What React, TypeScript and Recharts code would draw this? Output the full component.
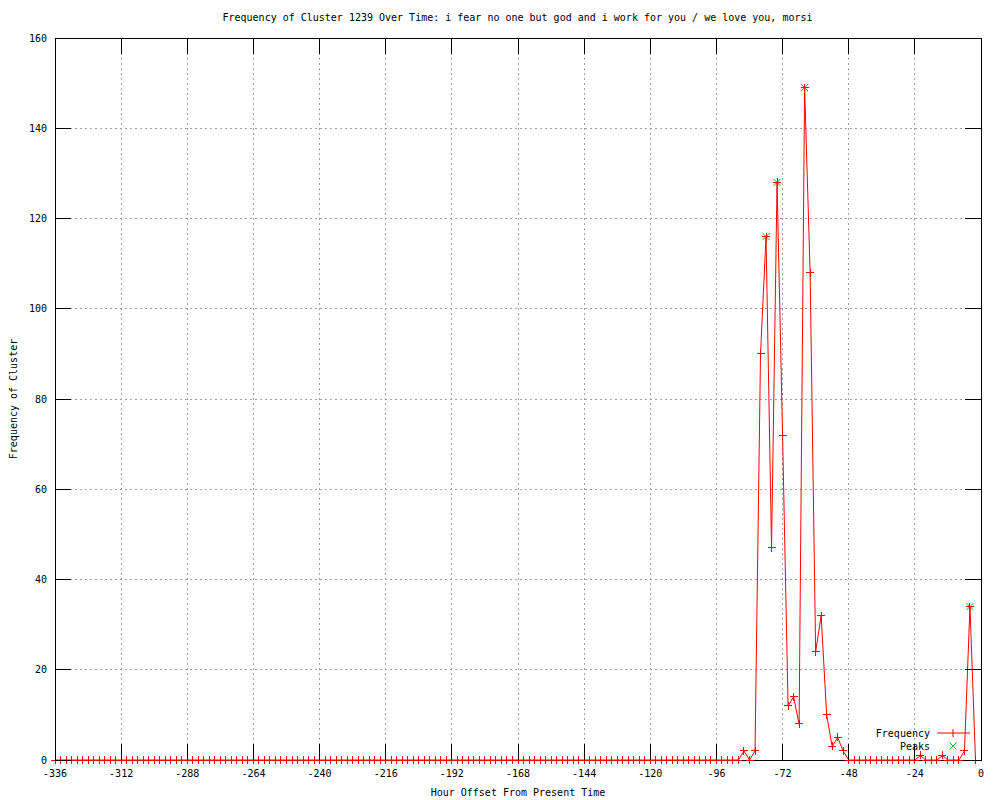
import { ComposedChart, Line, Scatter, XAxis, YAxis, CartesianGrid, ReferenceArea, Legend } from 'recharts'

// hour offsets, one sample every 2 hours
const HOURS = Array.from({ length: 168 }, (_, i) => -336 + i * 2)

const FREQUENCY = [
  0, 0, 0, 0, 0, 0, 0, 0, 0, 0, 0, 0, // -336 .. -314
  0, 0, 0, 0, 0, 0, 0, 0, 0, 0, 0, 0, // -312 .. -290
  0, 0, 0, 0, 0, 0, 0, 0, 0, 0, 0, 0, // -288 .. -266
  0, 0, 0, 0, 0, 0, 0, 0, 0, 0, 0, 0, // -264 .. -242
  0, 0, 0, 0, 0, 0, 0, 0, 0, 0, 0, 0, // -240 .. -218
  0, 0, 0, 0, 0, 0, 0, 0, 0, 0, 0, 0, // -216 .. -194
  0, 0, 0, 0, 0, 0, 0, 0, 0, 0, 0, 0, // -192 .. -170
  0, 0, 0, 0, 0, 0, 0, 0, 0, 0, 0, 0, // -168 .. -146
  0, 0, 0, 0, 0, 0, 0, 0, 0, 0, 0, 0, // -144 .. -122
  0, 0, 0, 0, 0, 0, 0, 0, 0, 0, 0, 0, // -120 .. -98
  0, 0, 0, 0, 0, 2, 0, 2, 90, 116, 47, 128, // -96 .. -74
  72, 12, 14, 8, 149, 108, 24, 32, 10, 3, 5, 2, // -72 .. -50
  0, 0, 0, 0, 0, 0, 0, 0, 0, 0, 0, 0, // -48 .. -26
  0, 1, 0, 0, 0, 1, 0, 0, 0, 2, 34, 0, // -24 .. -2
]

const PEAK_HOURS = [-78, -74, -64, -4]
const PEAK_VALUES = [116, 128, 149, 34]

const X_TICKS = [-336, -312, -288, -264, -240, -216, -192, -168, -144, -120, -96, -72, -48, -24, 0]
const Y_TICKS = [0, 20, 40, 60, 80, 100, 120, 140, 160]

const TITLE = 'Frequency of Cluster 1239 Over Time: i fear no one but god and i work for you / we love you, morsi'

const FONT = '"DejaVu Sans Mono", monospace'
const PLOT_LEFT = 55
const PLOT_RIGHT = 981
const PLOT_TOP = 38
const PLOT_BOTTOM = 760
const TIC = 16
const RED = '#ff0000'
const GREEN = '#00c000'

const freqData = HOURS.map((hour, i) => ({ hour, freq: FREQUENCY[i] }))
const peakData = PEAK_HOURS.map((hour, i) => ({ hour, peak: PEAK_VALUES[i] }))

const XTick = ({ x, payload }: any) => (
  <g>
    <line x1={x} y1={PLOT_BOTTOM} x2={x} y2={PLOT_BOTTOM - TIC} stroke="#000" shapeRendering="crispEdges" />
    <line x1={x} y1={PLOT_TOP} x2={x} y2={PLOT_TOP + TIC} stroke="#000" shapeRendering="crispEdges" />
    <text x={x} y={PLOT_BOTTOM + 13} textAnchor="middle" dominantBaseline="central" fontFamily={FONT} fontSize={10} fill="#000">
      {payload.value}
    </text>
  </g>
)

const YTick = ({ y, payload }: any) => (
  <g>
    <line x1={PLOT_LEFT} y1={y} x2={PLOT_LEFT + TIC} y2={y} stroke="#000" shapeRendering="crispEdges" />
    <line x1={PLOT_RIGHT - TIC} y1={y} x2={PLOT_RIGHT} y2={y} stroke="#000" shapeRendering="crispEdges" />
    <text x={PLOT_LEFT - 8} y={y} textAnchor="end" dominantBaseline="central" fontFamily={FONT} fontSize={10} fill="#000">
      {payload.value}
    </text>
  </g>
)

const PlusDot = ({ cx, cy, index }: any) => {
  if (cx == null || cy == null) return <g key={`p-${index}`} />
  return (
    <g key={`p-${index}`}>
      <line x1={cx - 4} y1={cy} x2={cx + 4} y2={cy} stroke={RED} shapeRendering="crispEdges" />
      <line x1={cx} y1={cy - 4} x2={cx} y2={cy + 4} stroke={RED} shapeRendering="crispEdges" />
    </g>
  )
}

const CrossMark = ({ cx, cy }: any) => (
  <g>
    <line x1={cx - 3.5} y1={cy - 3.5} x2={cx + 3.5} y2={cy + 3.5} stroke={GREEN} />
    <line x1={cx - 3.5} y1={cy + 3.5} x2={cx + 3.5} y2={cy - 3.5} stroke={GREEN} />
  </g>
)

const KeyBox = () => (
  <svg width={120} height={30} style={{ display: 'block' }}>
    <text x={70} y={9} textAnchor="end" dominantBaseline="central" fontFamily={FONT} fontSize={10} fill="#000">Frequency</text>
    <line x1={77} y1={9} x2={110} y2={9} stroke={RED} />
    <line x1={93} y1={5} x2={93} y2={13} stroke={RED} />
    <text x={70} y={22} textAnchor="end" dominantBaseline="central" fontFamily={FONT} fontSize={10} fill="#000">Peaks</text>
    <line x1={89.5} y1={18.5} x2={96.5} y2={25.5} stroke={GREEN} />
    <line x1={89.5} y1={25.5} x2={96.5} y2={18.5} stroke={GREEN} />
  </svg>
)

export default function App() {
  return (
    <div style={{ position: 'absolute', left: 0, top: 0, width: 1000, height: 800, background: '#fff' }}>
      <div
        style={{
          position: 'absolute',
          top: 10,
          left: 0,
          width: 1035,
          textAlign: 'center',
          fontFamily: FONT,
          fontSize: 10,
          lineHeight: '16px',
          whiteSpace: 'pre',
        }}
      >
        {TITLE}
      </div>
      <ComposedChart
        width={1000}
        height={800}
        data={freqData}
        margin={{ top: PLOT_TOP, right: 1000 - PLOT_RIGHT, bottom: 0, left: 0 }}
      >
        <CartesianGrid stroke="#a0a0a0" strokeDasharray="2 3" shapeRendering="crispEdges" />
        <XAxis
          dataKey="hour"
          type="number"
          domain={[-336, 0]}
          ticks={X_TICKS}
          interval={0}
          height={40}
          axisLine={false}
          tickLine={false}
          tickSize={0}
          tickMargin={0}
          tick={<XTick />}
          label={({ viewBox }: any) => (
            <text
              x={viewBox.x + viewBox.width / 2}
              y={viewBox.y + 32}
              textAnchor="middle"
              dominantBaseline="central"
              fontFamily={FONT}
              fontSize={10}
              fill="#000"
            >
              Hour Offset From Present Time
            </text>
          )}
        />
        <YAxis
          type="number"
          domain={[0, 160]}
          ticks={Y_TICKS}
          interval={0}
          width={PLOT_LEFT}
          axisLine={false}
          tickLine={false}
          tickSize={0}
          tickMargin={0}
          tick={<YTick />}
          label={({ viewBox }: any) => {
            const cy = viewBox.y + viewBox.height / 2
            return (
              <text
                x={13}
                y={cy}
                transform={`rotate(-90 13 ${cy})`}
                textAnchor="middle"
                dominantBaseline="central"
                fontFamily={FONT}
                fontSize={10}
                fill="#000"
              >
                Frequency of Cluster
              </text>
            )
          }}
        />
        <Scatter data={peakData} dataKey="peak" shape={<CrossMark />} isAnimationActive={false} />
        <Line
          type="linear"
          dataKey="freq"
          stroke={RED}
          strokeWidth={1}
          dot={(props: any) => <PlusDot key={`d-${props.index}`} {...props} />}
          activeDot={false}
          isAnimationActive={false}
        />
        <ReferenceArea x1={-336} x2={0} y1={0} y2={160} fill="none" stroke="#000" strokeWidth={1} shapeRendering="crispEdges" />
        <Legend
          layout="horizontal"
          verticalAlign="middle"
          wrapperStyle={{ left: 860, top: 724, width: 120, height: 30 }}
          content={() => <KeyBox />}
        />
      </ComposedChart>
    </div>
  )
}
